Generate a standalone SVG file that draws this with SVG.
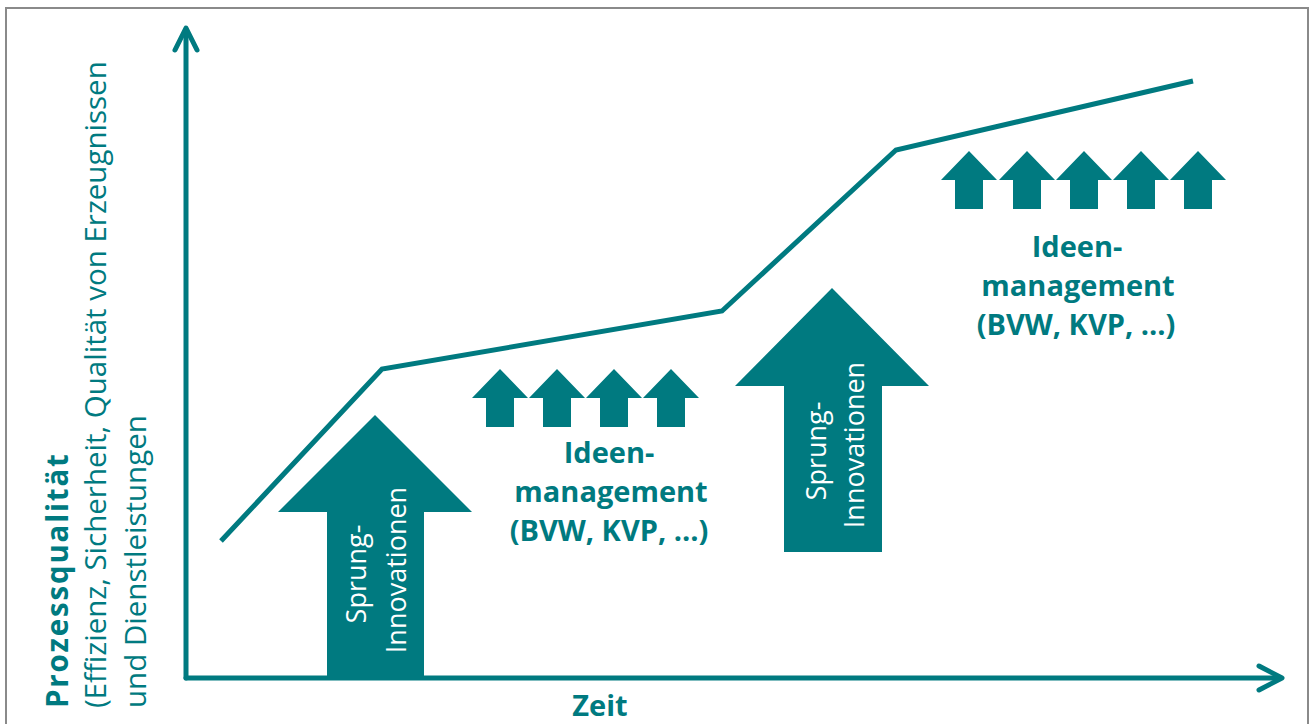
<svg xmlns="http://www.w3.org/2000/svg" width="1312" height="724" viewBox="0 0 1312 724">
  <style>
    .axis { fill: none; stroke: #007a80; stroke-width: 5; stroke-linecap: round; stroke-linejoin: round; }
    .curve { fill: none; stroke: #007a80; stroke-width: 5; stroke-linejoin: miter; }
    .arrow { fill: #007a80; }
    .lbl-white { font-family: "Open Sans", "Liberation Sans", sans-serif; font-size: 27px; fill: #ffffff; text-anchor: middle; }
    .lbl-teal { font-family: "Open Sans", "Liberation Sans", sans-serif; font-size: 29px; font-weight: bold; fill: #007a80; text-anchor: middle; }
    .ylbl { font-family: "Open Sans", "Liberation Sans", sans-serif; font-size: 29.5px; fill: #007a80; }
  </style>
  <defs>
    <!-- small "idea" arrow, tip at origin -->
    <path id="small-up" d="M0,0 L28,29 L14,29 L14,58 L-14,58 L-14,29 L-28,29 Z"/>
  </defs>

  <rect x="0" y="0" width="1312" height="724" fill="#ffffff"/>
  <!-- frame -->
  <rect x="6" y="8" width="1302" height="730" fill="none" stroke="#8a8a8a" stroke-width="2"/>

  <!-- axes -->
  <g id="axes">
    <path class="axis" d="M186,678 L186,30"/>
    <path class="axis" d="M175,50 L186,28 L197,50"/>
    <path class="axis" d="M186,678 L1280,678"/>
    <path class="axis" d="M1259,666 L1282,678 L1259,690"/>
  </g>

  <!-- quality curve -->
  <g id="connectors">
    <polyline class="curve" points="221,541 382,369 722,311 896,150 1193,81"/>
  </g>

  <!-- leap innovation 1 -->
  <g id="sprung1">
    <path class="arrow" d="M375,415 L472,512 L424,512 L424,676 L327,676 L327,512 L278,512 Z"/>
    <text class="lbl-white" transform="translate(366,574) rotate(-90)">Sprung-</text>
    <text class="lbl-white" transform="translate(406,570) rotate(-90)">Innovationen</text>
  </g>

  <!-- leap innovation 2 -->
  <g id="sprung2">
    <path class="arrow" d="M832,288 L929,386 L882,386 L882,552 L784,552 L784,386 L735,386 Z"/>
    <text class="lbl-white" transform="translate(826,451) rotate(-90)">Sprung-</text>
    <text class="lbl-white" transform="translate(864,445) rotate(-90)">Innovationen</text>
  </g>

  <!-- idea management 1 -->
  <g id="ideen1">
    <use href="#small-up" class="arrow" x="500" y="369"/>
    <use href="#small-up" class="arrow" x="557" y="369"/>
    <use href="#small-up" class="arrow" x="614" y="369"/>
    <use href="#small-up" class="arrow" x="671" y="369"/>
    <text class="lbl-teal" x="609" y="463">Ideen-</text>
    <text class="lbl-teal" x="611" y="502">management</text>
    <text class="lbl-teal" x="609" y="541">(BVW, KVP, …)</text>
  </g>

  <!-- idea management 2 -->
  <g id="ideen2">
    <use href="#small-up" class="arrow" x="969" y="151"/>
    <use href="#small-up" class="arrow" x="1027" y="151"/>
    <use href="#small-up" class="arrow" x="1084" y="151"/>
    <use href="#small-up" class="arrow" x="1141" y="151"/>
    <use href="#small-up" class="arrow" x="1198" y="151"/>
    <text class="lbl-teal" x="1077" y="257">Ideen-</text>
    <text class="lbl-teal" x="1078" y="296">management</text>
    <text class="lbl-teal" x="1076" y="335">(BVW, KVP, …)</text>
  </g>

  <!-- axis labels -->
  <g id="y-label">
    <text class="ylbl" font-weight="bold" font-size="33" letter-spacing="1.8" transform="translate(68,708) rotate(-90)">Prozessqualität</text>
    <text class="ylbl" transform="translate(106,708) rotate(-90)">(Effizienz, Sicherheit, Qualität von Erzeugnissen</text>
    <text class="ylbl" transform="translate(146,708) rotate(-90)">und Dienstleistungen</text>
  </g>
  <g id="x-label">
    <text class="lbl-teal" font-size="31" x="600" y="716">Zeit</text>
  </g>
</svg>
